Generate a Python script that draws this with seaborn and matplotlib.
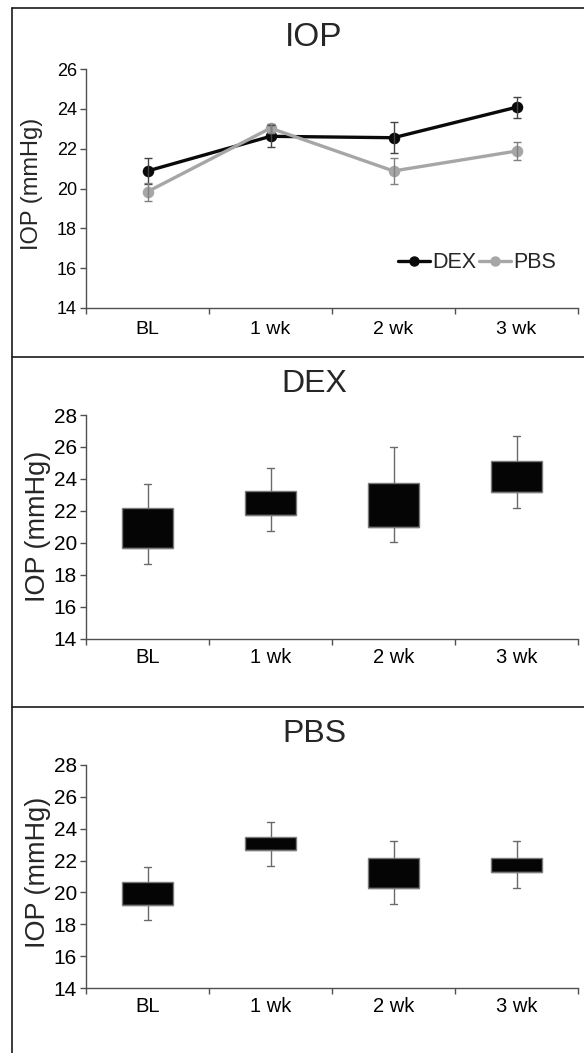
import numpy as np
import pandas as pd
import matplotlib
matplotlib.use("Agg")
import matplotlib.pyplot as plt
from matplotlib.lines import Line2D
import seaborn as sns

# ---------------- data ----------------
weeks = ["BL", "1 wk", "2 wk", "3 wk"]
groups = ["DEX", "PBS"]

dex_mean = [20.88, 22.62, 22.55, 24.08]
dex_err = [0.65, 0.55, 0.78, 0.52]
pbs_mean = [19.84, 23.03, 20.88, 21.88]
pbs_err = [0.46, 0.22, 0.63, 0.44]

dex_whisker_low = [18.69, 20.76, 20.03, 22.16]
dex_box_low = [19.65, 21.74, 20.99, 23.15]
dex_box_high = [22.18, 23.27, 23.75, 25.09]
dex_whisker_high = [23.67, 24.65, 25.99, 26.66]

pbs_whisker_low = [18.27, 21.68, 19.26, 20.25]
pbs_box_low = [19.24, 22.65, 20.25, 21.26]
pbs_box_high = [20.63, 23.45, 22.19, 22.19]
pbs_whisker_high = [21.58, 24.44, 23.20, 23.20]

line_colors = {"DEX": "#0a0a0a", "PBS": "#a6a6a6"}
err_colors = {"DEX": "#444444", "PBS": "#808080"}

# ---------------- style ----------------
sns.set_theme(style="ticks")
plt.rcParams["font.family"] = ["Liberation Sans", "DejaVu Sans"]
plt.rcParams["axes.edgecolor"] = "#505050"
plt.rcParams["axes.linewidth"] = 1.0
plt.rcParams["xtick.color"] = "#505050"
plt.rcParams["ytick.color"] = "#505050"
plt.rcParams["xtick.labelcolor"] = "black"
plt.rcParams["ytick.labelcolor"] = "black"

W, H = 584, 1053
fig = plt.figure(figsize=(W / 100, H / 100), dpi=100)


def add_axes_px(x0, x1, ytop, ybot):
    return fig.add_axes([x0 / W, 1 - ybot / H, (x1 - x0) / W, (ybot - ytop) / H])


def style_axes(ax, ylim, tick_fs, xlab_fs, xpad, ylab_fs, ylab_x, ylab_y):
    ax.set_xlim(-0.5, 3.5)
    ax.set_ylim(*ylim)
    ax.set_yticks(np.arange(ylim[0], ylim[1] + 0.1, 2))
    ax.set_xticks(range(len(weeks)))
    ax.set_xticklabels(weeks)
    ax.set_xticks(np.arange(-0.5, len(weeks), 1), minor=True)
    ax.tick_params(axis="x", which="major", length=0, pad=xpad, labelsize=xlab_fs)
    ax.tick_params(axis="x", which="minor", length=4, width=1, direction="out")
    ax.tick_params(axis="y", which="major", length=4, width=1, direction="out",
                   pad=2.5, labelsize=tick_fs)
    for s in ["top", "right"]:
        ax.spines[s].set_visible(False)
    ax.set_xlabel("")
    ax.set_ylabel("IOP (mmHg)", fontsize=ylab_fs)
    ax.yaxis.set_label_coords(ylab_x, ylab_y)


# ---------------- panel 1: line chart ----------------
ax1 = add_axes_px(86, 578, 69, 308)
long = pd.DataFrame({
    "week": weeks * 2,
    "group": ["DEX"] * 4 + ["PBS"] * 4,
    "iop": dex_mean + pbs_mean,
})
sns.pointplot(data=long, x="week", y="iop", hue="group", order=weeks,
              hue_order=groups, palette=line_colors, errorbar=None,
              markers="o", markersize=6.5, linewidth=2.4, ax=ax1, legend=False)
xs = np.arange(len(weeks))
for g, m, e in [("DEX", dex_mean, dex_err), ("PBS", pbs_mean, pbs_err)]:
    ax1.errorbar(xs, m, yerr=e, fmt="none", ecolor=err_colors[g], elinewidth=1.0,
                 capsize=3, capthick=1.0, zorder=5)
style_axes(ax1, (14, 26), 13, 14, 9, 17, -0.088, 0.52)
handles = [Line2D([], [], color=line_colors[g], lw=2.4, marker="o", markersize=6.5)
           for g in groups]
ax1.legend(handles, groups, loc="center", bbox_to_anchor=(0.795, 0.19), ncol=2,
           frameon=False, fontsize=15.5, handlelength=1.5, handletextpad=0.1,
           columnspacing=0.1, borderpad=0)


# ---------------- panels 2 & 3: floating boxes ----------------
def box_panel(ax, wl, bl, bh, wh, ylab_y):
    rows = []
    for i, w in enumerate(weeks):
        for v in (wl[i], bl[i], bl[i], bh[i], wh[i]):
            rows.append({"week": w, "iop": v})
    df = pd.DataFrame(rows)
    sns.boxplot(data=df, x="week", y="iop", order=weeks, color="#050505",
                saturation=1, width=0.42, whis=(0, 100), linecolor="#7a7a7a",
                linewidth=1.0, fliersize=0, ax=ax,
                medianprops={"color": "#7a7a7a", "linewidth": 1.0},
                whiskerprops={"color": "#6a6a6a", "linewidth": 1.0},
                capprops={"color": "#6a6a6a", "linewidth": 1.0})
    for ln in ax.lines:
        xd = np.asarray(ln.get_xdata(), dtype=float)
        yd = np.asarray(ln.get_ydata(), dtype=float)
        if len(xd) == 2 and yd[0] == yd[1] and 0 < abs(xd[1] - xd[0]) < 0.3:
            c = xd.mean()
            ln.set_xdata([c - 0.03, c + 0.03])
    style_axes(ax, (14, 28), 15, 14.5, 6.5, 19.5, -0.072, ylab_y)


ax2 = add_axes_px(86, 578, 415, 638.5)
box_panel(ax2, dex_whisker_low, dex_box_low, dex_box_high, dex_whisker_high, 0.5)
ax3 = add_axes_px(86, 578, 765, 988)
box_panel(ax3, pbs_whisker_low, pbs_box_low, pbs_box_high, pbs_whisker_high, 0.52)

# ---------------- titles ----------------
for txt, yb, fs in [("IOP", 46, 24), ("DEX", 392, 23), ("PBS", 742, 23)]:
    fig.text(314 / W, 1 - yb / H, txt, ha="center", va="baseline", fontsize=fs)

# ---------------- panel frames ----------------
def fline(x0, y0, x1, y1):
    fig.add_artist(Line2D([x0 / W, x1 / W], [1 - y0 / H, 1 - y1 / H],
                          transform=fig.transFigure, color="#1a1a1a", lw=1.2))

fline(12, 8, 12, H)
fline(12, 8, W, 8)
fline(12, 357, W, 357)
fline(12, 707, W, 707)

fig.savefig("out.png", dpi=100, facecolor="white")
